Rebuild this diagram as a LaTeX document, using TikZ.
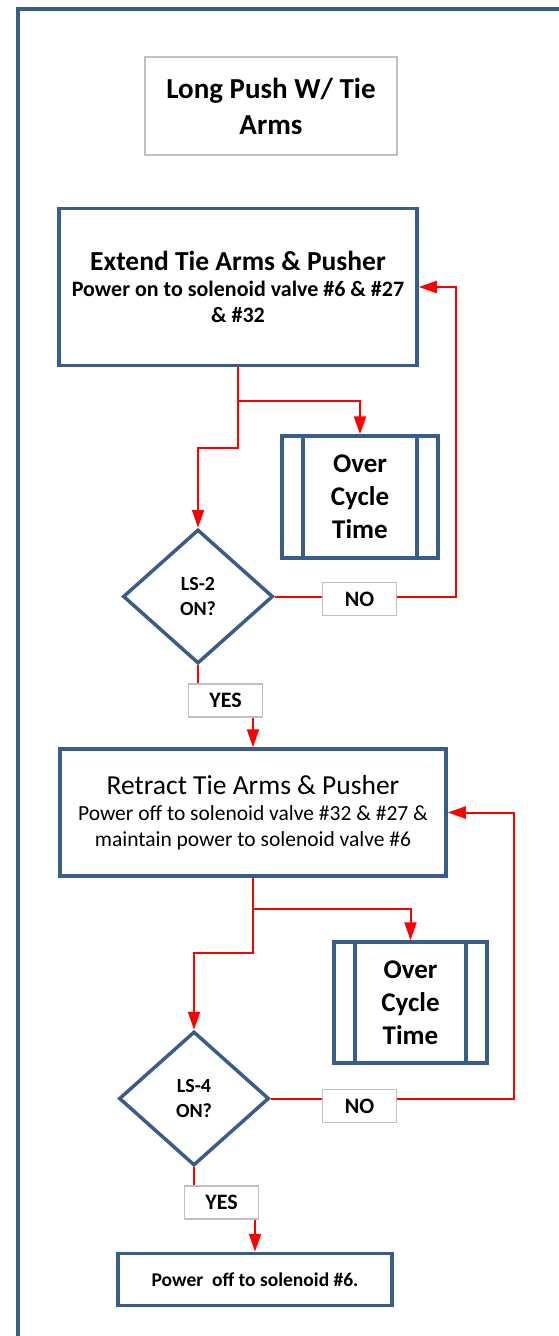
\documentclass[tikz,border=0pt]{standalone}
\usepackage{fontspec}
\setmainfont{Carlito}
\usetikzlibrary{shapes.geometric,arrows.meta}
\definecolor{boxblue}{RGB}{56,93,138}
\definecolor{labelgray}{RGB}{191,191,191}
\begin{document}
\begin{tikzpicture}[x=1bp,y=-1bp,
  stepbox/.style={draw=boxblue,line width=3.5bp,fill=white,align=center,inner sep=0pt},
  timebox/.style={stepbox,font=\fontsize{27bp}{33bp}\selectfont\bfseries,
    path picture={
      \draw[boxblue,line width=3.5bp]
        ([xshift=21bp]path picture bounding box.north west) -- ([xshift=21bp]path picture bounding box.south west)
        ([xshift=-21bp]path picture bounding box.north east) -- ([xshift=-21bp]path picture bounding box.south east);}},
  testbox/.style={diamond,draw=boxblue,line width=3.5bp,fill=white,align=center,inner sep=0pt,
    minimum width=150bp,minimum height=134bp,font=\fontsize{20bp}{25bp}\selectfont\bfseries},
  answer/.style={draw=labelgray,line width=1.5bp,fill=white,inner sep=0pt,
    minimum width=74bp,minimum height=33bp,font=\fontsize{22bp}{24bp}\selectfont\bfseries},
  flow/.style={red,line width=2bp},
  tip/.style={-{Triangle[length=18bp,width=12bp]}}]
  \useasboundingbox (0,0) rectangle (559,1336);
  \draw[boxblue,line width=4bp,line join=miter] (18,1340) -- (18,9) -- (565,9);
  \node[draw=labelgray,line width=1.5bp,align=center,minimum width=252bp,minimum height=98bp,
    font=\fontsize{29bp}{36bp}\selectfont\bfseries] (title) at (271,106) {Long Push W/ Tie\\Arms};
  % extend
  \node[stepbox,minimum width=358bp,minimum height=157bp,font=\fontsize{22bp}{26bp}\selectfont\bfseries]
    (ext) at (238,287) {{\fontsize{27.5bp}{30bp}\selectfont Extend Tie Arms \& Pusher}\\
    Power on to solenoid valve \#6 \& \#27\\\& \#32};
  \node[timebox,minimum width=156bp,minimum height=122bp] (ot1) at (360,497) {Over\\Cycle\\Time};
  \node[testbox] (ls2) at (198,596.5) {LS-2\\ON?};
  \node[answer] (no1) at (359.5,599) {NO};
  \node[answer] (yes1) at (225.5,700.5) {YES};
  % retract
  \node[stepbox,minimum width=386bp,minimum height=127bp,font=\fontsize{21.5bp}{26bp}\selectfont]
    (ret) at (253,812.5) {{\fontsize{27.5bp}{30bp}\selectfont Retract Tie Arms \& Pusher}\\
    Power off to solenoid valve \#32 \& \#27 \&\\maintain power to solenoid valve \#6};
  \node[timebox,minimum width=153bp,minimum height=121bp] (ot2) at (410.5,1002.5) {Over\\Cycle\\Time};
  \node[testbox] (ls4) at (194,1098.5) {LS-4\\ON?};
  \node[answer] (no2) at (359.5,1106) {NO};
  \node[answer] (yes2) at (221.5,1202.5) {YES};
  \node[stepbox,minimum width=274bp,minimum height=52bp,font=\fontsize{19.5bp}{24bp}\selectfont\bfseries]
    (fin) at (255,1279.5) {Power~ off to solenoid \#6.};
  % connectors
  \draw[flow,tip] (ext.south) -- ++(0,34) -| (ot1.north);
  \draw[flow,tip] (ext.south) -- ++(0,81) -| (ls2.north);
  \draw[flow] (ls2.east) -- (ls2.east -| no1.west);
  \draw[flow,tip] (ls2.east -| no1.east) -- ++(59,0) |- (ext.east);
  \draw[flow] (ls2.south) -- (ls2.south |- yes1.north);
  \draw[flow,tip] (yes1.south -| ret.north) -- (ret.north);
  \draw[flow,tip] (ret.south) -- ++(0,31) -| (ot2.north);
  \draw[flow,tip] (ret.south) -- ++(0,75) -| (ls4.north);
  \draw[flow] (ls4.east) -- (ls4.east -| no2.west);
  \draw[flow,tip] (ls4.east -| no2.east) -- ++(117,0) |- (ret.east);
  \draw[flow] (ls4.south) -- (ls4.south |- yes2.north);
  \draw[flow,tip] (yes2.south -| fin.north) -- (fin.north);
\end{tikzpicture}
\end{document}
